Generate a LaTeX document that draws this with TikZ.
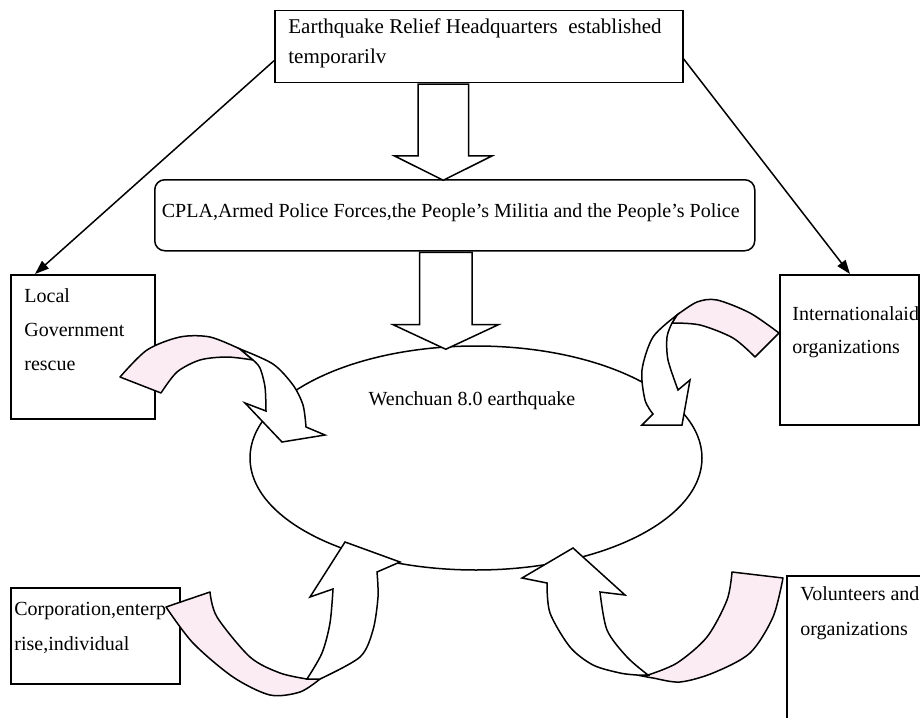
\documentclass[tikz,border=0pt]{standalone}
\usepackage{fontspec}
\setmainfont{Liberation Serif}
\usetikzlibrary{arrows.meta,shapes.arrows,shapes.geometric}
\definecolor{tailpink}{RGB}{251,236,243}
\tikzset{
	box/.style = {draw=black, line width=0.75pt, inner sep=0pt, anchor=north west},
	txt/.style = {inner sep=0pt, align=left, anchor=north west, font=\fontsize{10}{17}\selectfont},
	link/.style = {line width=0.75pt, -{Triangle[length=7pt,width=5pt]}},
	bigarrow/.style = {draw=black, fill=white, line width=0.75pt, single arrow, rotate=-90, anchor=tail, inner xsep=0pt},
	tailpart/.style = {draw=black, fill=tailpink, line width=0.75pt, line join=round},
	headpart/.style = {draw=black, fill=white, line width=0.75pt, line join=miter}
}
\begin{document}
\begin{tikzpicture}[x=0.5pt, y=-0.5pt]
	\useasboundingbox (0,0) rectangle (920,717);
	\clip (0,0) rectangle (920,717);
	% boxes
	\node [box, minimum width=204pt, minimum height=36pt] (hq) at (274,10) {};
	\node [box, rounded corners=5pt, minimum width=300pt, minimum height=35.5pt] (cpla) at (154,179) {};
	\node [box, minimum width=72pt, minimum height=72pt] (local) at (10,274) {};
	\node [box, minimum width=69.5pt, minimum height=75pt] (intl) at (779,274) {};
	\node [box, minimum width=84.5pt, minimum height=48pt] (corp) at (10,587) {};
	\node [box, minimum width=80pt, minimum height=100pt] (vol) at (786,575) {};
	\node [draw=black, line width=0.75pt, ellipse, inner sep=0pt, minimum width=226pt, minimum height=112pt] (quake) at (476,458) {};
	% straight block arrows
	\node [bigarrow, minimum height=48pt, inner ysep=12.25pt, single arrow head extend=11.75pt, single arrow tip angle=127] (down1) at ([xshift=-17.75pt]hq.south) {};
	\node [bigarrow, minimum height=48.5pt, inner ysep=12.75pt, single arrow head extend=13.25pt, single arrow tip angle=130] (down2) at ([xshift=-4.5pt]cpla.south) {};
	% thin connectors
	\draw [link] ([yshift=-7pt]hq.west) -- ([xshift=12.5pt]local.north west);
	\draw [link] ([yshift=-6pt]hq.east) -- ([xshift=35.5pt]intl.north west);
	% curved ribbon arrows
	\filldraw [tailpart] plot[smooth] coordinates {(120,377) (147,350) (180,337) (210,337) (240,349)}
		-- plot[smooth] coordinates {(253,360) (227,357) (200,360) (177,372) (161,393)} -- cycle;
	\filldraw [headpart] plot[smooth] coordinates {(240,349) (273,364) (293,385) (303,405) (306,427)}
		-- (325,435) -- (282,442) -- (245,403) -- plot[smooth] coordinates {(266,411) (265,387) (260,368) (253,360)} -- cycle;
	\filldraw [tailpart] plot[smooth] coordinates {(779,333) (750,313) (717,300) (697,302) (677,315)}
		-- plot[smooth] coordinates {(672,323) (700,325) (733,338) (755,357)} -- cycle;
	\filldraw [headpart] plot[smooth] coordinates {(677,315) (653,337) (642,370) (645,400) (653,414)}
		-- (642,425) -- (682,425) -- (690,380) -- plot[smooth] coordinates {(678,390) (668,360) (667,337) (672,323)} -- cycle;
	\filldraw [tailpart] plot[smooth] coordinates {(166,607) (193,643) (233,677) (270,695) (300,692) (320,679)}
		-- plot[smooth] coordinates {(307,679) (280,673) (250,657) (217,617) (210,592)} -- cycle;
	\filldraw [headpart] plot[smooth] coordinates {(307,679) (322,653) (330,623) (333,589)}
		-- (310,597) -- (345,542) -- (400,562) -- plot[smooth] coordinates {(377,572) (378,597) (373,630) (360,657) (320,679)} -- cycle;
	\filldraw [tailpart] plot[smooth] coordinates {(783,578) (773,617) (750,653) (713,673) (680,682) (653,678) (637,675)}
		-- plot[smooth] coordinates {(648,675) (677,663) (707,637) (727,600) (732,572)} -- cycle;
	\filldraw [headpart] plot[smooth] coordinates {(637,675) (620,673) (593,665) (570,647) (550,613) (547,583)}
		-- (522,578) -- (573,548) -- (625,595) -- plot[smooth] coordinates {(600,592) (607,630) (627,657) (648,675)} -- cycle;
	% texts
	\node [txt, font=\fontsize{10.5}{15}\selectfont] (hqtext) at ([shift={(7pt,-4.3pt)}]hq.north west) {Earthquake Relief Headquarters\ \ established\\temporarilv};
	\node [txt, anchor=base] (cplatext) at ([shift={(-2pt,-1.25pt)}]cpla.center) {CPLA,Armed Police Forces,the People’s Militia and the People’s Police};
	\node [txt] (localtext) at ([shift={(7pt,-7.2pt)}]local.north west) {Local\\Government\\rescue};
	\node [txt, font=\fontsize{10}{16.5}\selectfont] (intltext) at ([shift={(6.5pt,-16.2pt)}]intl.north west) {Internationalaid\\organizations};
	\node [txt, font=\fontsize{10}{17.5}\selectfont] (corptext) at ([shift={(2pt,-7.2pt)}]corp.north west) {Corporation,enterp\\rise,individual};
	\node [txt, font=\fontsize{10}{17.5}\selectfont] (voltext) at ([shift={(7pt,-5.7pt)}]vol.north west) {Volunteers and\\organizations};
	\node [txt, anchor=base] (quaketext) at ([shift={(-2pt,26.5pt)}]quake.center) {Wenchuan 8.0 earthquake};
\end{tikzpicture}
\end{document}
